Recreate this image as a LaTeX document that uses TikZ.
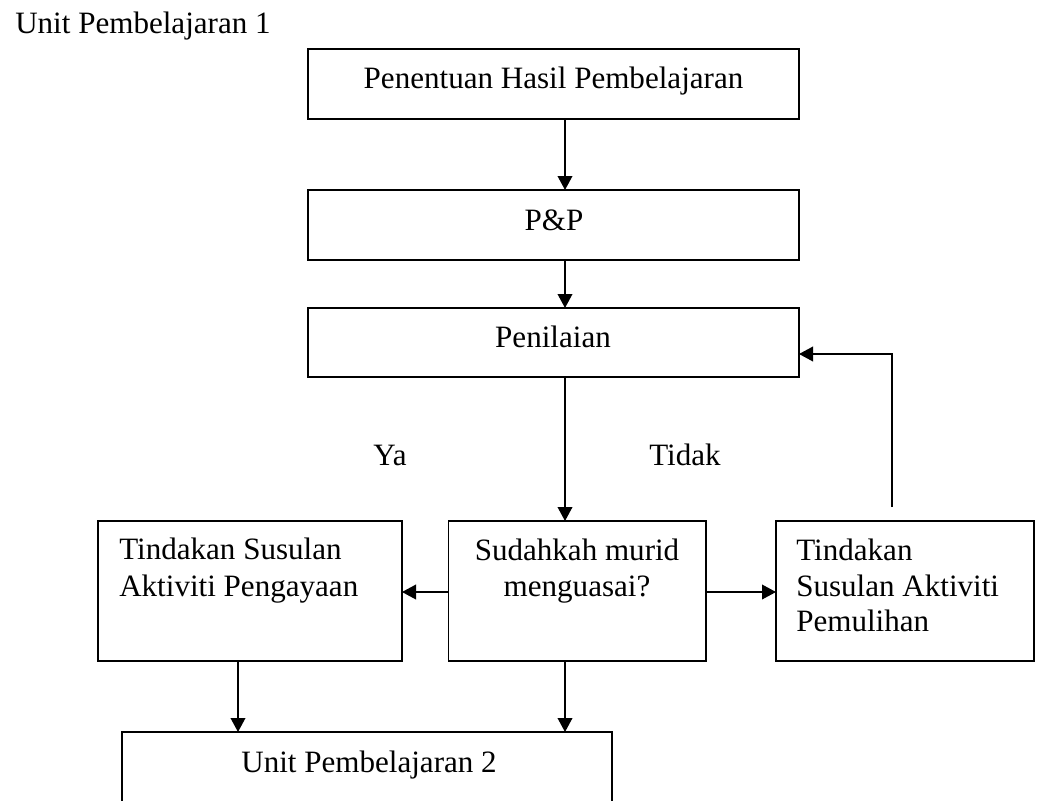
\documentclass[tikz,border=0pt]{standalone}
\usepackage{fontspec}
\setmainfont{Liberation Serif}
\usetikzlibrary{arrows.meta}
\begin{document}
\begin{tikzpicture}[x=0.75pt,y=-0.75pt,
  box/.style={draw, line width=1.4pt, rectangle, inner sep=0pt, outer sep=0pt, anchor=north west},
  txt/.style={font=\fontsize{23.3}{27}\selectfont, inner sep=0pt, anchor=base},
  ltxt/.style={txt, anchor=base west},
  conn/.style={line width=1.2pt, -{Triangle[length=10.5pt,width=11pt]}}]
\useasboundingbox (0,0) rectangle (1037,800);
\clip (0,0) rectangle (1037,800);
% boxes
\node[box, minimum width=491*0.75pt, minimum height=70*0.75pt] (b1) at (308,49) {};
\node[box, minimum width=491*0.75pt, minimum height=70*0.75pt] (b2) at (308,190) {};
\node[box, minimum width=491*0.75pt, minimum height=69*0.75pt] (b3) at (308,308) {};
\node[box, minimum width=304*0.75pt, minimum height=140*0.75pt] (L) at (98,521) {};
\node[box, minimum width=257.5*0.75pt, minimum height=140*0.75pt] (C) at (448.5,521) {};
\node[box, minimum width=258*0.75pt, minimum height=140*0.75pt] (R) at (776,521) {};
\node[box, minimum width=490*0.75pt, minimum height=130*0.75pt] (B) at (122,732) {};
% texts
\node[ltxt] (t0) at (15,33) {Unit Pembelajaran 1};
\node[txt] (t1) at (553.5,88) {Penentuan Hasil Pembelajaran};
\node[txt] (t2) at (554,230) {P\&P};
\node[txt] (t3) at (553,347) {Penilaian};
\node[txt] (ya) at (390,465) {Ya};
\node[txt] (tidak) at (685,465) {Tidak};
\node[ltxt] (l1) at (119,559) {Tindakan Susulan};
\node[ltxt] (l2) at (119,596) {Aktiviti Pengayaan};
\node[txt] (c1) at (577,560) {Sudahkah murid};
\node[txt] (c2) at (577,596) {menguasai?};
\node[ltxt] (r1) at (796,560) {Tindakan};
\node[ltxt] (r2) at (796,596) {Susulan Aktiviti};
\node[ltxt] (r3) at (796,631) {Pemulihan};
\node[txt] (bt) at (369,772) {Unit Pembelajaran 2};
% guide coordinates
\coordinate (colx) at (565,0);
\coordinate (lx) at (238,0);
\coordinate (rowy) at (0,592);
\coordinate (fby) at (0,354);
\coordinate (fb) at (892,507);
% connectors
\draw[conn] (b1.south -| colx) -- (b2.north -| colx);
\draw[conn] (b2.south -| colx) -- (b3.north -| colx);
\draw[conn] (b3.south -| colx) -- (C.north -| colx);
\draw[conn] (C.west |- rowy) -- (L.east |- rowy);
\draw[conn] (C.east |- rowy) -- (R.west |- rowy);
\draw[conn] (L.south -| lx) -- (B.north -| lx);
\draw[conn] (C.south -| colx) -- (B.north -| colx);
\draw[conn] (fb) |- (b3.east |- fby);
\end{tikzpicture}
\end{document}
